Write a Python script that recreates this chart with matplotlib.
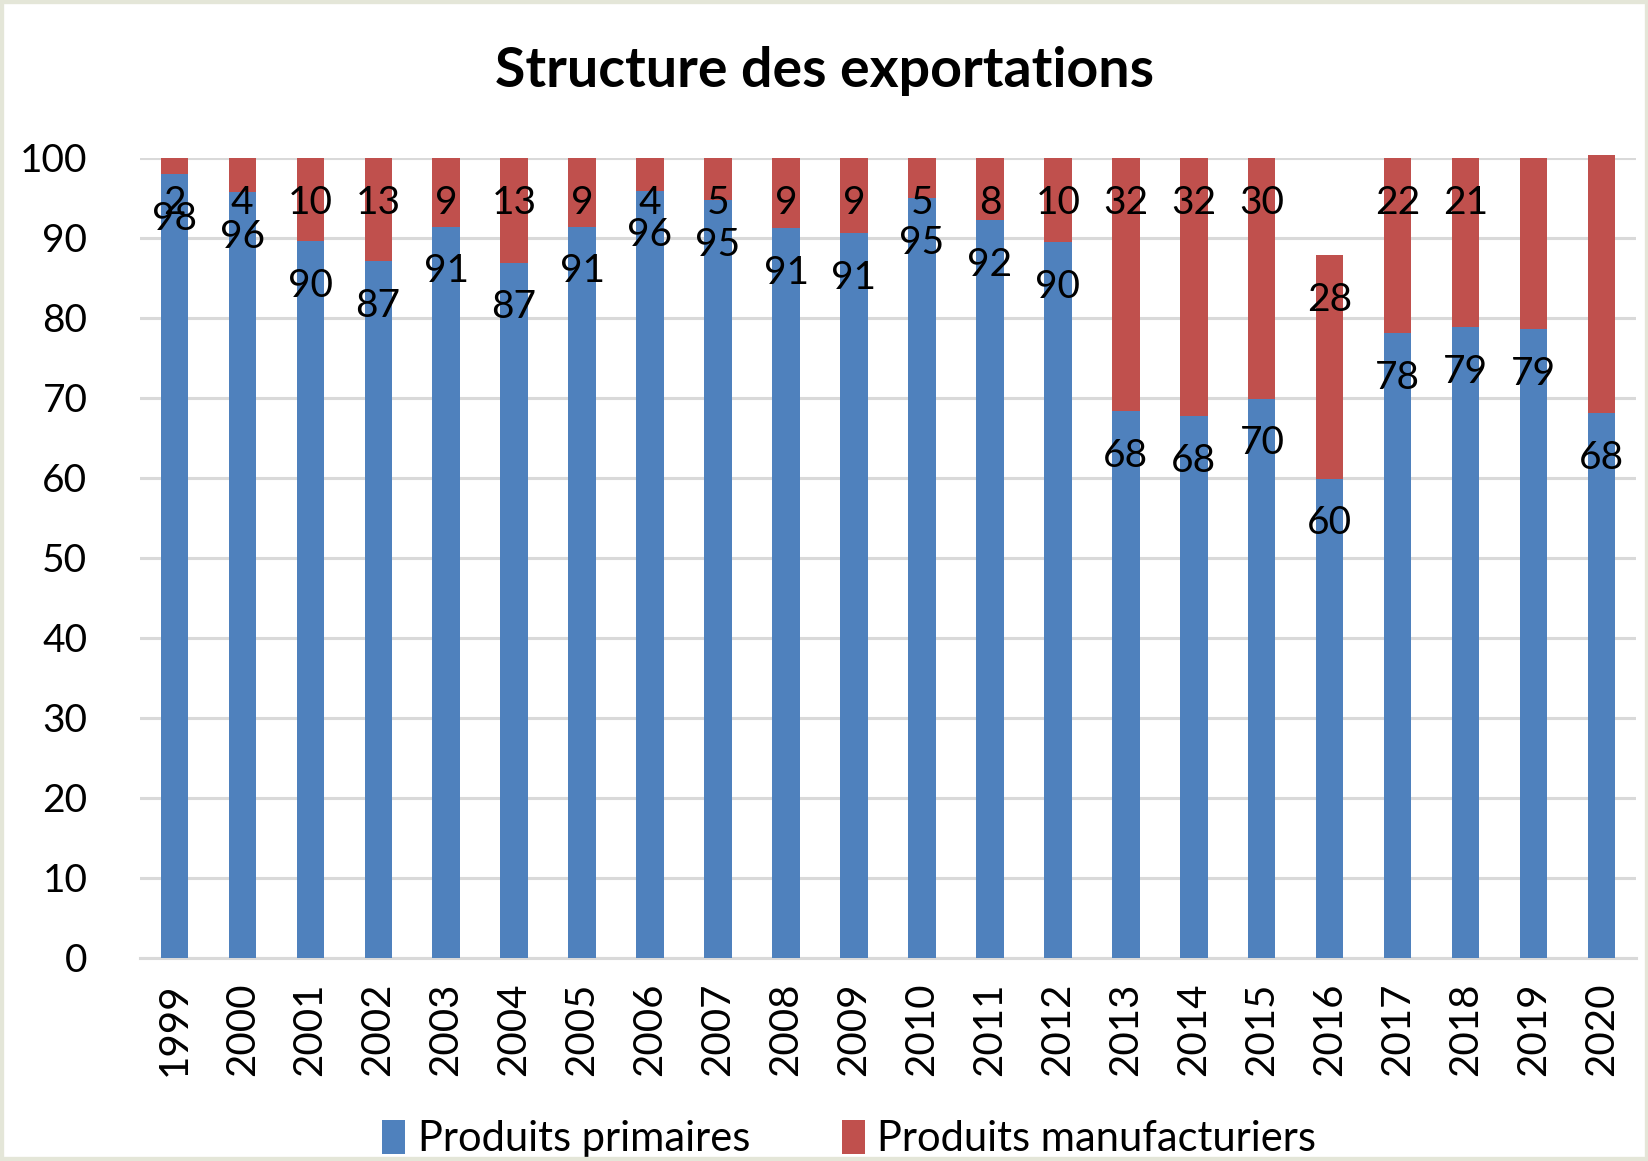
import numpy as np
from matplotlib import pyplot as plt

years = [str(y) for y in range(1999, 2021)]
primaires = [98.0, 95.7, 89.6, 87.1, 91.4, 86.9, 91.4, 95.9, 94.7, 91.2, 90.6,
             95.0, 92.2, 89.5, 68.3, 67.7, 69.9, 59.9, 78.1, 78.8, 78.6, 68.1]
manufacturiers = [2.0, 4.3, 10.4, 12.9, 8.6, 13.1, 8.6, 4.1, 5.3, 8.8, 9.4,
                  5.0, 7.8, 10.5, 31.7, 32.3, 30.1, 27.9, 21.9, 21.2, 21.4, 32.3]
# the last two red segments carry no data label in the original
manuf_label_shown = [True] * 20 + [False, False]

blue = '#4F81BD'
red = '#C0504D'

plt.rcParams['font.family'] = ['Lato', 'DejaVu Sans']

fig = plt.figure(figsize=(16.49, 11.61), dpi=100)
ax = fig.add_axes([0.085, 0.175, 0.907, 0.689])

x = np.arange(len(years))
w = 0.4
ax.bar(x, primaires, w, color=blue, label='Produits primaires', zorder=3, clip_on=False)
ax.bar(x, manufacturiers, w, bottom=primaires, color=red,
       label='Produits manufacturiers', zorder=3, clip_on=False)

off = 5.6
for i in range(len(years)):
    ax.text(x[i], primaires[i] - off, f'{primaires[i]:.0f}', ha='center', va='center',
            fontsize=28, zorder=5)
    if manuf_label_shown[i]:
        top = primaires[i] + manufacturiers[i]
        ax.text(x[i], top - off, f'{manufacturiers[i]:.0f}', ha='center', va='center',
                fontsize=28, zorder=5)

ax.set_xlim(-0.5, len(years) - 0.5)
ax.set_ylim(0, 100)
ax.set_yticks(np.arange(0, 101, 10))
ax.set_xticks(x)
ax.set_xticklabels(years, rotation=90)
ax.tick_params(axis='y', labelsize=28, length=0, pad=38)
ax.tick_params(axis='x', labelsize=29, length=0, pad=18)
ax.yaxis.grid(True, color='#d9d9d9', linewidth=2.2, zorder=0)
for s in ['top', 'right', 'left']:
    ax.spines[s].set_visible(False)
ax.spines['bottom'].set_color('#d9d9d9')
ax.spines['bottom'].set_linewidth(2.2)

fig.suptitle('Structure des exportations', fontsize=40, fontweight='bold',
             y=0.939, va='center')

fig.legend(loc='lower center', bbox_to_anchor=(0.515, -0.03), ncol=2, frameon=False,
           fontsize=30, handlelength=0.55, handleheight=0.85, handletextpad=0.3,
           columnspacing=2.2)

fig.patches.append(plt.Rectangle((0, 0), 1, 1, transform=fig.transFigure, fill=False,
                                 edgecolor='#e4e6d8', linewidth=6, zorder=10))

fig.savefig('out.png', dpi=100)
